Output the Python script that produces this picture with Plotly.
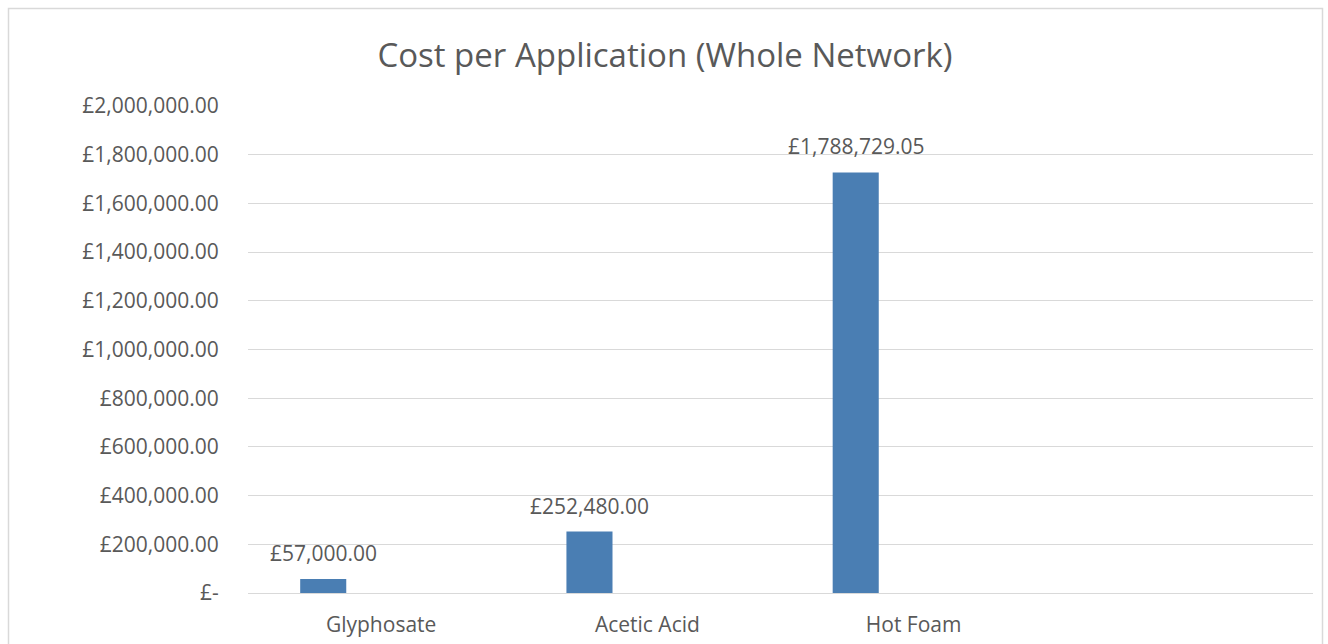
import plotly.graph_objects as go

categories = ["Glyphosate", "Acetic Acid", "Hot Foam", " "]
bar_values = [57000, 252480, 1727000]
bar_labels = ["£57,000.00", "£252,480.00", "£1,788,729.05"]
y_tick_values = [0, 200000, 400000, 600000, 800000, 1000000, 1200000, 1400000,
                 1600000, 1800000, 2000000]
y_tick_labels = ["£-", "£200,000.00", "£400,000.00", "£600,000.00", "£800,000.00",
                 "£1,000,000.00", "£1,200,000.00", "£1,400,000.00", "£1,600,000.00",
                 "£1,800,000.00", "£2,000,000.00"]
title_text = "Cost per Application (Whole Network)"

FONT = "Open Sans"
TXT = "#595959"
GRID = "#d9d9d9"
BAR = "#4a7eb3"

W, H = 1328, 644
ML, MR, MT, MB = 248, 15, 106, 51
PW = W - ML - MR
PH = H - MT - MB

fig = go.Figure()
fig.add_trace(go.Bar(
    x=categories[:3],
    y=bar_values,
    marker=dict(color=BAR, line=dict(width=0)),
    width=0.173,
    offset=-0.304,
    hoverinfo="skip",
))

for cat, v, lab in zip(categories[:3], bar_values, bar_labels):
    fig.add_annotation(
        x=cat, y=v, xref="x", yref="y",
        text=lab, showarrow=False,
        xshift=-57.5, yshift=10,
        yanchor="bottom", xanchor="center",
        font=dict(family=FONT, size=21, color=TXT),
    )

# chart border
def px_x(p):
    return (p - ML) / PW

def px_y(p):
    return (H - MB - p) / PH

fig.add_shape(type="rect", xref="paper", yref="paper",
              x0=px_x(8.5), x1=px_x(1322.5), y0=px_y(700), y1=px_y(8.5),
              line=dict(color=GRID, width=1.5), fillcolor="rgba(0,0,0,0)", layer="below")

fig.update_layout(
    template="none",
    width=W, height=H,
    margin=dict(l=ML, r=MR, t=MT, b=MB, autoexpand=False),
    paper_bgcolor="white", plot_bgcolor="white",
    showlegend=False,
    title=dict(text=title_text, x=(665) / W, xanchor="center", y=1 - 55 / H, yanchor="middle",
               font=dict(family=FONT, size=33, color=TXT)),
    font=dict(family=FONT, color=TXT),
    xaxis=dict(
        type="category", categoryorder="array", categoryarray=categories,
        range=[-0.5, 3.5], showgrid=False, zeroline=False, showline=False,
        ticks="outside", ticklen=13, tickcolor="rgba(0,0,0,0)",
        tickfont=dict(family=FONT, size=21, color=TXT),
        automargin=False, fixedrange=True,
    ),
    yaxis=dict(
        range=[0, 2000000], tickvals=y_tick_values, ticktext=y_tick_labels,
        showgrid=True, gridcolor=GRID, gridwidth=1,
        zeroline=True, zerolinecolor=GRID, zerolinewidth=1,
        showline=False,
        ticks="outside", ticklen=24, tickcolor="rgba(0,0,0,0)",
        tickfont=dict(family=FONT, size=21, color=TXT),
        automargin=False, fixedrange=True,
    ),
)

fig.write_html("out.html")
